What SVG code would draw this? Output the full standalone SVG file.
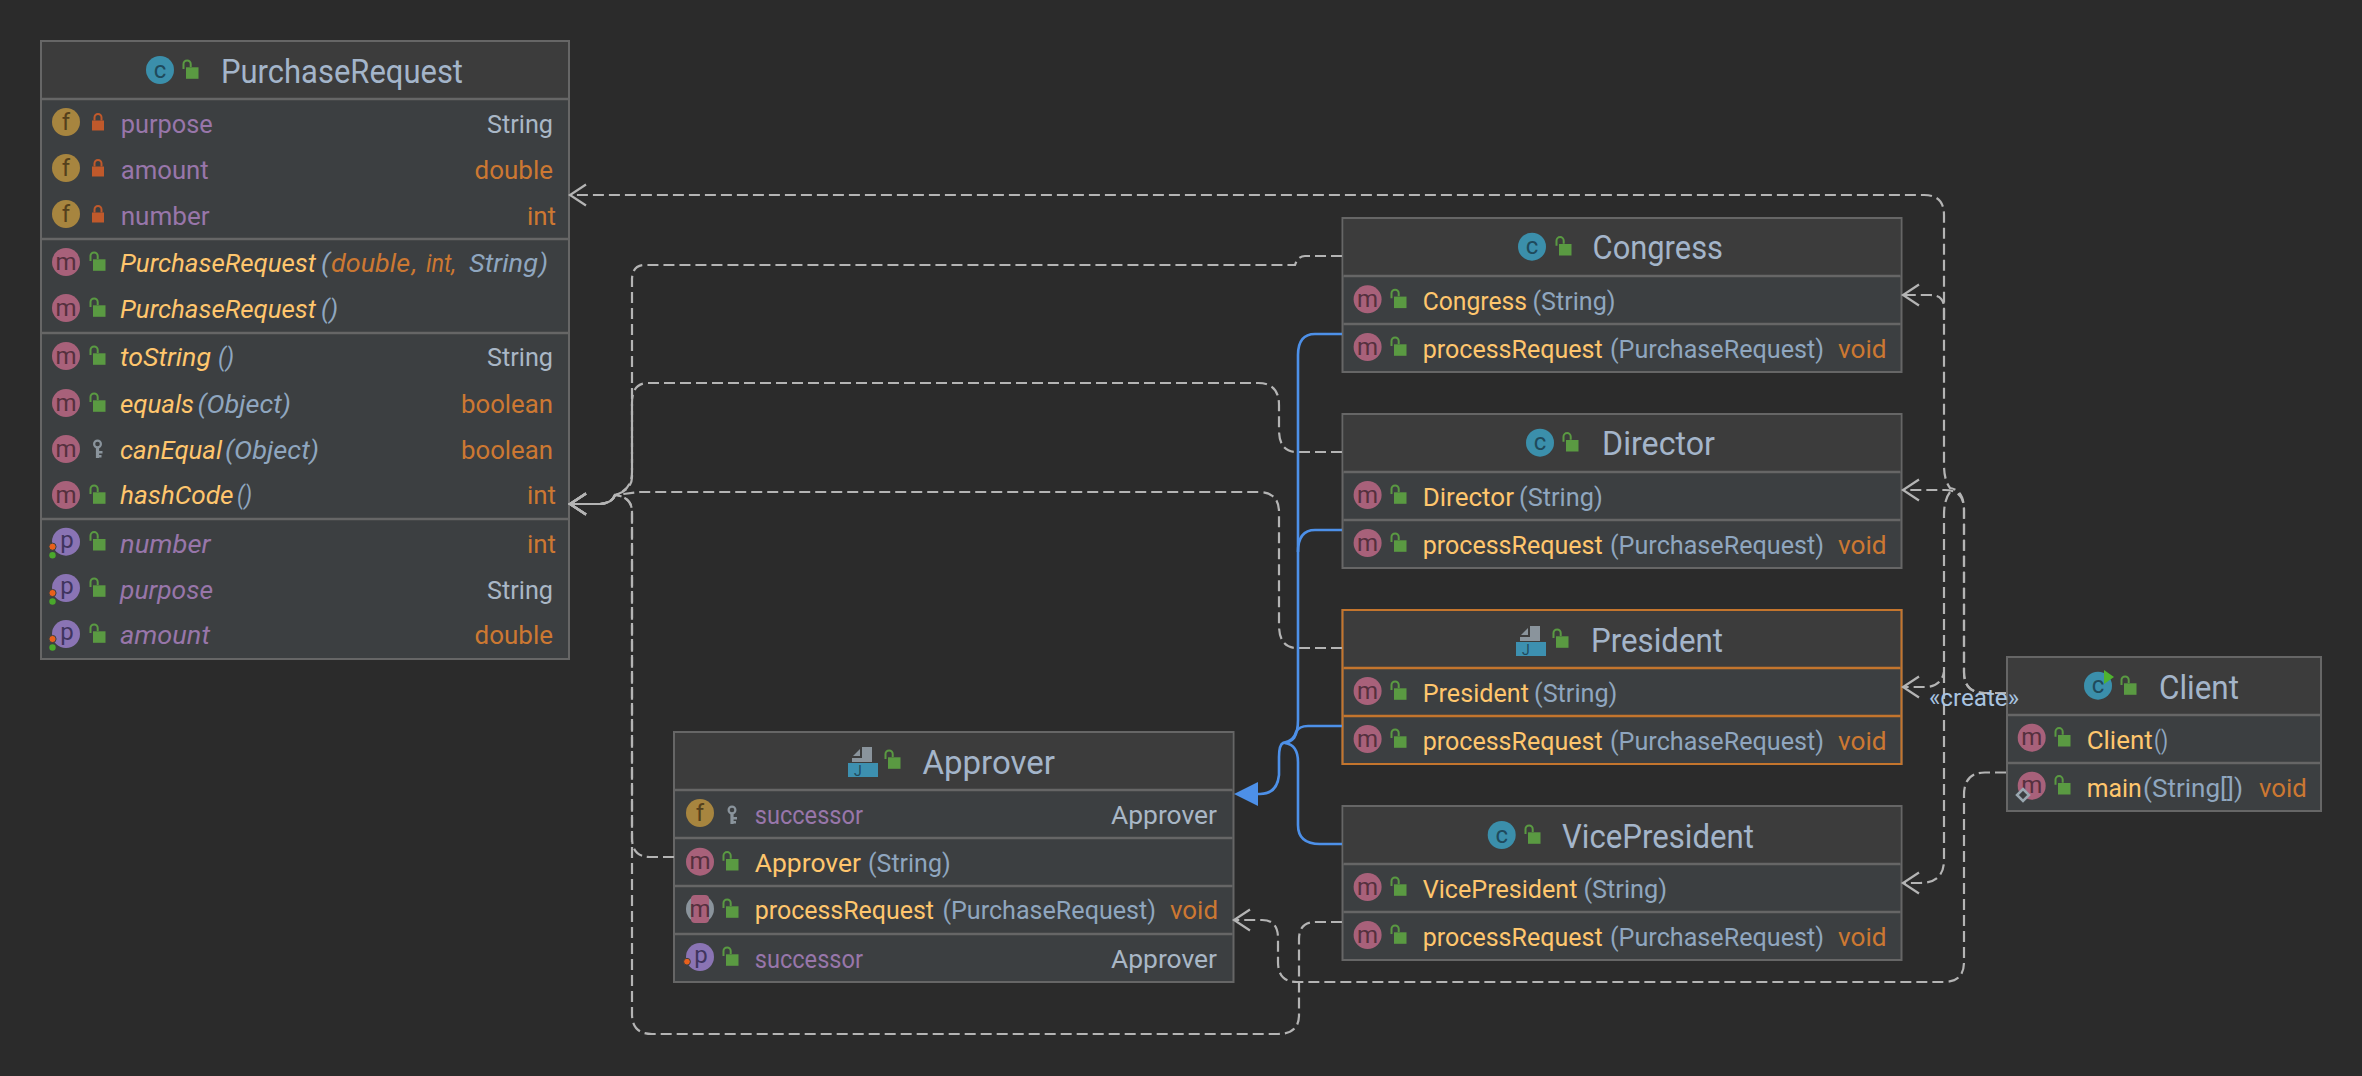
<svg xmlns="http://www.w3.org/2000/svg" width="2362" height="1076" viewBox="0 0 2362 1076">
<style>
text{font-family:Roboto,"Open Sans","Noto Sans","Liberation Sans",sans-serif;font-size:26.5px}
.box{fill:#3c3f41;stroke:#666;stroke-width:2}
.hd{fill:#3c3c3c}
.sep{stroke:#666;stroke-width:2.4}
.boxO{fill:none;stroke:#c4752d;stroke-width:2}
.sepO{stroke:#c4752d;stroke-width:2.4}
.t{font-size:32.5px;fill:#a4b5ca}
.fld{fill:#9876aa}
.mth{fill:#ffc66d}
.par{fill:#8fa6bf}
.str{fill:#a9b7c6}
.kw{fill:#cc7832}
.t,.fld,.mth,.par,.str,.kw{transform:translateY(1px)}
.i{font-style:italic}
.ico{font-size:24px;text-anchor:middle}
.dash{fill:none;stroke:#b4b4b4;stroke-width:2.2;stroke-dasharray:11 5}
.inh{fill:none;stroke:#4d90e8;stroke-width:2.6}
.lbl{font-size:24px;fill:#a9c4e0}
</style>
<defs>
<marker id="open" viewBox="-18 -13 22 26" refX="0" refY="0" markerUnits="userSpaceOnUse" markerWidth="22" markerHeight="26" orient="auto-start-reverse"><path d="M-16,-10.5 L0,0 L-16,10.5" fill="none" stroke="#b4b4b4" stroke-width="2.2" stroke-dasharray="none"/></marker>
<g id="lo"><rect x="-4" y="-2.7" width="12.5" height="11.5" fill="#5a9a42"/><path d="M-6.5,-1 V-6 a3.6,3.6 0 0 1 7.2,0 V-3" fill="none" stroke="#5a9a42" stroke-width="2"/></g>
<g id="lr"><rect x="-6" y="-1.5" width="12" height="10" fill="#c0592b"/><path d="M-3.5,-1.5 V-4.5 a3.5,3.5 0 0 1 7,0 V-1.5" fill="none" stroke="#c0592b" stroke-width="2"/></g>
<g id="key" fill="#8a949c"><path d="M-1.6,-2 H1.6 V9 H-1.6 Z M1.6,2 H5 V4.5 H1.6 Z M1.6,6 H4 V8.5 H1.6 Z"/><circle cx="0" cy="-5" r="3.4" fill="none" stroke="#8a949c" stroke-width="2.2"/></g>
<g id="cf"><circle r="14" fill="#a7853f"/><text class="ico" y="8" fill="#54401c">f</text></g>
<g id="cm"><circle r="14" fill="#a8617a"/><text class="ico" y="7.5" fill="#55303e">m</text></g>
<g id="cp"><circle r="14" fill="#8a74b4"/><text class="ico" x="1" y="6" fill="#40345e">p</text></g>
<g id="cc"><circle r="14" fill="#3b8fab"/><text class="ico" y="7.5" fill="#1f4a5c">c</text></g>
<g id="cpp"><use href="#cp"/><circle cx="-13.5" cy="5" r="3.6" fill="#e8601c" stroke="#3c3f41"/><circle cx="-13.5" cy="13.5" r="3.2" fill="#4aa82c"/></g>
<g id="jj"><path d="M14,0 H24 V15 H4 V11 H14 Z" fill="#8a949c"/><path d="M5,9 L12,2 V9 Z" fill="#8a949c"/><rect x="0" y="16" width="30" height="14" fill="#3d90b0"/><text x="6" y="29" style="font-size:14px" fill="#1f4a5c">J</text></g>
</defs>
<rect width="2362" height="1076" fill="#2b2b2b"/>

<g id="node-PurchaseRequest">
<rect class="box" x="41" y="41" width="528" height="618"/><rect class="hd" x="42" y="42" width="526" height="57"/>
<line class="sep" x1="42" x2="568" y1="99" y2="99"/><line class="sep" x1="42" x2="568" y1="239" y2="239"/><line class="sep" x1="42" x2="568" y1="333" y2="333"/><line class="sep" x1="42" x2="568" y1="519" y2="519"/>
<use href="#cc" x="160" y="70"/><use href="#lo" x="190" y="70"/>
<text class="t" x="221" y="81.7" textLength="242" lengthAdjust="spacingAndGlyphs">PurchaseRequest</text>
<use href="#cf" x="66" y="122"/><use href="#lr" x="98" y="122"/><text class="fld" x="120.7" y="132" textLength="92" lengthAdjust="spacingAndGlyphs">purpose</text><text class="str" x="487" y="132" textLength="66" lengthAdjust="spacingAndGlyphs">String</text>
<use href="#cf" x="66" y="168"/><use href="#lr" x="98" y="168"/><text class="fld" x="120.7" y="178" textLength="88" lengthAdjust="spacingAndGlyphs">amount</text><text class="kw" x="474.6" y="178" textLength="78.4" lengthAdjust="spacingAndGlyphs">double</text>
<use href="#cf" x="66" y="214"/><use href="#lr" x="98" y="214"/><text class="fld" x="120.7" y="224" textLength="89" lengthAdjust="spacingAndGlyphs">number</text><text class="kw" x="527" y="224" textLength="29" lengthAdjust="spacingAndGlyphs">int</text>
<use href="#cm" x="66" y="262"/><use href="#lo" x="97" y="262"/><text class="mth i" x="120" y="271" textLength="196" lengthAdjust="spacingAndGlyphs">PurchaseRequest</text><text class="par i" x="321" y="271" textLength="9" lengthAdjust="spacingAndGlyphs">(</text><text class="kw i" x="331" y="271" textLength="79" lengthAdjust="spacingAndGlyphs">double</text><text class="kw i" x="412" y="271">,</text><text class="kw i" x="426" y="271" textLength="30" lengthAdjust="spacingAndGlyphs">int,</text><text class="par i" x="469" y="271" textLength="69" lengthAdjust="spacingAndGlyphs">String</text><text class="par i" x="539" y="271" textLength="9" lengthAdjust="spacingAndGlyphs">)</text>
<use href="#cm" x="66" y="308"/><use href="#lo" x="97" y="308"/><text class="mth i" x="120" y="317" textLength="196" lengthAdjust="spacingAndGlyphs">PurchaseRequest</text><text class="par i" x="321" y="317" textLength="17" lengthAdjust="spacingAndGlyphs">()</text>
<use href="#cm" x="66" y="356"/><use href="#lo" x="97" y="356"/><text class="mth i" x="120" y="365" textLength="91" lengthAdjust="spacingAndGlyphs">toString</text><text class="par i" x="218" y="365" textLength="16" lengthAdjust="spacingAndGlyphs">()</text><text class="str" x="487" y="365" textLength="66" lengthAdjust="spacingAndGlyphs">String</text>
<use href="#cm" x="66" y="403"/><use href="#lo" x="97" y="403"/><text class="mth i" x="120" y="411.7" textLength="74" lengthAdjust="spacingAndGlyphs">equals</text><text class="par i" x="197.5" y="411.7" textLength="93.5" lengthAdjust="spacingAndGlyphs">(Object)</text><text class="kw" x="461" y="411.7" textLength="92" lengthAdjust="spacingAndGlyphs">boolean</text>
<use href="#cm" x="66" y="449"/><use href="#key" x="97.5" y="449"/><text class="mth i" x="120" y="457.7" textLength="102" lengthAdjust="spacingAndGlyphs">canEqual</text><text class="par i" x="225" y="457.7" textLength="94" lengthAdjust="spacingAndGlyphs">(Object)</text><text class="kw" x="461" y="457.7" textLength="92" lengthAdjust="spacingAndGlyphs">boolean</text>
<use href="#cm" x="66" y="495"/><use href="#lo" x="97" y="495"/><text class="mth i" x="120" y="503" textLength="113.5" lengthAdjust="spacingAndGlyphs">hashCode</text><text class="par i" x="237" y="503" textLength="15" lengthAdjust="spacingAndGlyphs">()</text><text class="kw" x="527" y="503" textLength="29" lengthAdjust="spacingAndGlyphs">int</text>
<use href="#cpp" x="66" y="541.7"/><use href="#lo" x="97" y="541.7"/><text class="fld i" x="120" y="551.7" textLength="90.6" lengthAdjust="spacingAndGlyphs">number</text><text class="kw" x="527" y="551.7" textLength="29" lengthAdjust="spacingAndGlyphs">int</text>
<use href="#cpp" x="66" y="588"/><use href="#lo" x="97" y="588"/><text class="fld i" x="120" y="597.7" textLength="93" lengthAdjust="spacingAndGlyphs">purpose</text><text class="str" x="487" y="597.7" textLength="66" lengthAdjust="spacingAndGlyphs">String</text>
<use href="#cpp" x="66" y="634"/><use href="#lo" x="97" y="634"/><text class="fld i" x="120" y="643" textLength="90" lengthAdjust="spacingAndGlyphs">amount</text><text class="kw" x="474.6" y="643" textLength="78.4" lengthAdjust="spacingAndGlyphs">double</text>
</g>

<g id="node-Approver">
<rect class="box" x="674" y="732" width="559.5" height="250"/><rect class="hd" x="675" y="733" width="557.5" height="57"/>
<line class="sep" x1="675" x2="1232.5" y1="790" y2="790"/><line class="sep" x1="675" x2="1232.5" y1="838" y2="838"/><line class="sep" x1="675" x2="1232.5" y1="886" y2="886"/><line class="sep" x1="675" x2="1232.5" y1="934" y2="934"/>
<use href="#jj" x="848" y="747"/><use href="#lo" x="892" y="760"/>
<text class="t" x="922.4" y="773" textLength="132.6" lengthAdjust="spacingAndGlyphs">Approver</text>
<use href="#cf" x="700" y="813"/><use href="#key" x="732" y="815"/><text class="fld" x="754.7" y="822.7" textLength="108.3" lengthAdjust="spacingAndGlyphs">successor</text><text class="str" x="1111" y="822.7" textLength="106" lengthAdjust="spacingAndGlyphs">Approver</text>
<use href="#cm" x="700" y="861.7"/><use href="#lo" x="730" y="861.7"/><text class="mth" x="754.7" y="870.7" textLength="106.3" lengthAdjust="spacingAndGlyphs">Approver</text><text class="par" x="868" y="870.7" textLength="82.6" lengthAdjust="spacingAndGlyphs">(String)</text>
<ellipse cx="700" cy="909" rx="14" ry="14" fill="#8a949c"/><rect x="691" y="895" width="18" height="28" rx="4" fill="#a8617a"/><text class="ico" x="700" y="916.5" fill="#55303e">m</text><use href="#lo" x="730" y="909"/><text class="mth" x="754.7" y="918" textLength="179.3" lengthAdjust="spacingAndGlyphs">processRequest</text><text class="par" x="942.4" y="918" textLength="213.6" lengthAdjust="spacingAndGlyphs">(PurchaseRequest)</text><text class="kw" x="1170" y="918" textLength="48" lengthAdjust="spacingAndGlyphs">void</text>
<use href="#cp" x="700" y="957"/><circle cx="687" cy="961.7" r="3.4" fill="#e8601c" stroke="#3c3f41"/><use href="#lo" x="730" y="957"/><text class="fld" x="754.7" y="966.7" textLength="108.3" lengthAdjust="spacingAndGlyphs">successor</text><text class="str" x="1111" y="966.7" textLength="106" lengthAdjust="spacingAndGlyphs">Approver</text>
</g>

<g id="node-Congress">
<rect class="box" x="1342.5" y="218" width="559" height="154"/><rect class="hd" x="1343.5" y="219" width="557" height="57"/>
<line class="sep" x1="1343.5" x2="1900.5" y1="276" y2="276"/><line class="sep" x1="1343.5" x2="1900.5" y1="324" y2="324"/>
<use href="#cc" x="1532" y="246.7"/><use href="#lo" x="1563" y="246.7"/>
<text class="t" x="1592.6" y="258" textLength="130.4" lengthAdjust="spacingAndGlyphs">Congress</text>
<use href="#cm" x="1367.6" y="299.3"/><use href="#lo" x="1398" y="299.3"/><text class="mth" x="1422.7" y="308.7" textLength="104.3" lengthAdjust="spacingAndGlyphs">Congress</text><text class="par" x="1532.5" y="308.7" textLength="83" lengthAdjust="spacingAndGlyphs">(String)</text>
<use href="#cm" x="1367.6" y="347"/><use href="#lo" x="1398" y="347"/><text class="mth" x="1422.7" y="356.7" textLength="180" lengthAdjust="spacingAndGlyphs">processRequest</text><text class="par" x="1610" y="356.7" textLength="214" lengthAdjust="spacingAndGlyphs">(PurchaseRequest)</text><text class="kw" x="1838" y="356.7" textLength="48.5" lengthAdjust="spacingAndGlyphs">void</text>
</g>

<g id="node-Director">
<rect class="box" x="1342.5" y="414" width="559" height="154"/><rect class="hd" x="1343.5" y="415" width="557" height="57"/>
<line class="sep" x1="1343.5" x2="1900.5" y1="472" y2="472"/><line class="sep" x1="1343.5" x2="1900.5" y1="520" y2="520"/>
<use href="#cc" x="1540" y="442.7"/><use href="#lo" x="1570" y="442.7"/>
<text class="t" x="1602" y="454" textLength="113" lengthAdjust="spacingAndGlyphs">Director</text>
<use href="#cm" x="1367.6" y="495"/><use href="#lo" x="1398" y="495"/><text class="mth" x="1422.7" y="504.7" textLength="91.3" lengthAdjust="spacingAndGlyphs">Director</text><text class="par" x="1519" y="504.7" textLength="83.7" lengthAdjust="spacingAndGlyphs">(String)</text>
<use href="#cm" x="1367.6" y="543"/><use href="#lo" x="1398" y="543"/><text class="mth" x="1422.7" y="552.7" textLength="180" lengthAdjust="spacingAndGlyphs">processRequest</text><text class="par" x="1610" y="552.7" textLength="214" lengthAdjust="spacingAndGlyphs">(PurchaseRequest)</text><text class="kw" x="1838" y="552.7" textLength="48.5" lengthAdjust="spacingAndGlyphs">void</text>
</g>

<g id="node-President">
<rect class="box" x="1342.5" y="610" width="559" height="154"/><rect class="hd" x="1343.5" y="611" width="557" height="57"/>
<rect class="boxO" x="1342.5" y="610" width="559" height="154"/>
<line class="sepO" x1="1343.5" x2="1900.5" y1="668" y2="668"/><line class="sepO" x1="1343.5" x2="1900.5" y1="716" y2="716"/>
<use href="#jj" x="1516" y="626"/><use href="#lo" x="1560" y="639"/>
<text class="t" x="1591" y="650.7" textLength="132" lengthAdjust="spacingAndGlyphs">President</text>
<use href="#cm" x="1367.6" y="691"/><use href="#lo" x="1398" y="691"/><text class="mth" x="1422.7" y="700.7" textLength="106.3" lengthAdjust="spacingAndGlyphs">President</text><text class="par" x="1534" y="700.7" textLength="83.4" lengthAdjust="spacingAndGlyphs">(String)</text>
<use href="#cm" x="1367.6" y="739"/><use href="#lo" x="1398" y="739"/><text class="mth" x="1422.7" y="748.7" textLength="180" lengthAdjust="spacingAndGlyphs">processRequest</text><text class="par" x="1610" y="748.7" textLength="214" lengthAdjust="spacingAndGlyphs">(PurchaseRequest)</text><text class="kw" x="1838" y="748.7" textLength="48.5" lengthAdjust="spacingAndGlyphs">void</text>
</g>

<g id="node-VicePresident">
<rect class="box" x="1342.5" y="806" width="559" height="154"/><rect class="hd" x="1343.5" y="807" width="557" height="57"/>
<line class="sep" x1="1343.5" x2="1900.5" y1="864" y2="864"/><line class="sep" x1="1343.5" x2="1900.5" y1="912" y2="912"/>
<use href="#cc" x="1501.7" y="835"/><use href="#lo" x="1532" y="835"/>
<text class="t" x="1562" y="846.7" textLength="192" lengthAdjust="spacingAndGlyphs">VicePresident</text>
<use href="#cm" x="1367.6" y="887"/><use href="#lo" x="1398" y="887"/><text class="mth" x="1422.7" y="896.7" textLength="154.8" lengthAdjust="spacingAndGlyphs">VicePresident</text><text class="par" x="1583.4" y="896.7" textLength="83.6" lengthAdjust="spacingAndGlyphs">(String)</text>
<use href="#cm" x="1367.6" y="935"/><use href="#lo" x="1398" y="935"/><text class="mth" x="1422.7" y="944.7" textLength="180" lengthAdjust="spacingAndGlyphs">processRequest</text><text class="par" x="1610" y="944.7" textLength="214" lengthAdjust="spacingAndGlyphs">(PurchaseRequest)</text><text class="kw" x="1838" y="944.7" textLength="48.5" lengthAdjust="spacingAndGlyphs">void</text>
</g>

<g id="node-Client">
<rect class="box" x="2007" y="657" width="314" height="154"/><rect class="hd" x="2008" y="658" width="312" height="57"/>
<line class="sep" x1="2008" x2="2320" y1="715" y2="715"/><line class="sep" x1="2008" x2="2320" y1="763" y2="763"/>
<use href="#cc" x="2098" y="685.7"/><path d="M2104,670 L2114,677 L2104,684 Z" fill="#4fb32f"/><use href="#lo" x="2128" y="686"/>
<text class="t" x="2159" y="697.7" textLength="80" lengthAdjust="spacingAndGlyphs">Client</text>
<use href="#cm" x="2031.7" y="737.7"/><use href="#lo" x="2062" y="737.7"/><text class="mth" x="2086.7" y="747.7" textLength="66" lengthAdjust="spacingAndGlyphs">Client</text><text class="par" x="2154" y="747.7" textLength="14" lengthAdjust="spacingAndGlyphs">()</text>
<use href="#cm" x="2031.7" y="785.7"/><use href="#lo" x="2062" y="785.7"/><path d="M2023,789 L2029,795 L2023,801 L2017,795 Z" fill="#3c3f41" stroke="#9aa7b0" stroke-width="2.5"/><text class="mth" x="2086.7" y="795.7" textLength="55" lengthAdjust="spacingAndGlyphs">main</text><text class="par" x="2143" y="795.7" textLength="100" lengthAdjust="spacingAndGlyphs">(String[])</text><text class="kw" x="2259" y="795.7" textLength="47.7" lengthAdjust="spacingAndGlyphs">void</text>
</g>

<g id="connectors">
<path class="dash" marker-end="url(#open)" d="M1342,256 H1305 Q1298,256 1295,265 H645 Q632,265 632,280 V472 Q632,490 615,495 Q612,503 600,504 H570"/>
<path class="dash" marker-end="url(#open)" d="M1342,452 H1297 Q1279,452 1279,430 V405 Q1279,383 1258,383 H648 Q632,383 632,403 V477 Q632,490 615,495 Q612,503 600,504 H570"/>
<path class="dash" marker-end="url(#open)" d="M1342,648 H1297 Q1279,648 1279,625 V512 Q1279,492 1258,492 H640 L615,495 Q612,503 600,504 H570"/>
<path class="dash" marker-end="url(#open)" d="M674,857 H650 Q632,857 632,838 V512 Q632,497 615,495 Q612,503 600,504 H570"/>
<path class="dash" marker-end="url(#open)" d="M1342,922 H1316 Q1299,922 1299,939 V1015 Q1299,1034 1278,1034 H652 Q632,1034 632,1014 V512 Q632,497 615,495 Q612,503 600,504 H570"/>
<path class="dash" marker-end="url(#open)" d="M2006,772.5 H1985 Q1964,772.5 1964,795 V962 Q1964,982 1944,982 H1297 Q1278,982 1278,962 V938 Q1278,920 1262,920 H1234"/>
<path class="dash" marker-end="url(#open)" d="M2006,693 H1985 Q1964,693 1964,672 V510 Q1964,490 1945,490 H1903"/>
<path class="dash" marker-end="url(#open)" d="M2006,693 H1985 Q1964,693 1964,672 V510 Q1964,490 1950,488 Q1944,480 1944,465 V215 Q1944,195 1924,195 H570"/>
<path class="dash" marker-end="url(#open)" d="M1944,320 V308 Q1944,295 1930,295 H1903"/>
<path class="dash" marker-end="url(#open)" d="M1950,492 Q1944,500 1944,515 V672 Q1941,687 1925,687 H1903"/>
<path class="dash" marker-end="url(#open)" d="M1944,672 V860 Q1944,883 1920,883 H1903"/>
<path class="inh" d="M1342,334 H1315 Q1298,334 1298,355 V720 Q1298,732 1294,738 Q1290,743 1283,743 Q1279,745 1279,757 V775 Q1277,794 1260,794 H1256"/>
<path class="inh" d="M1342,530 H1315 Q1298,530 1298,552"/>
<path class="inh" d="M1342,726 H1308 Q1299,726 1296,732 Q1294,741 1283,743"/>
<path class="inh" d="M1342,844 H1320 Q1298,844 1298,825 V762 Q1298,745 1285,743"/>
<path d="M1234,794 L1258,782 V806 Z" fill="#4d90e8"/>
<text class="lbl" x="1929" y="706" textLength="90" lengthAdjust="spacingAndGlyphs">«create»</text>
</g>
</svg>
